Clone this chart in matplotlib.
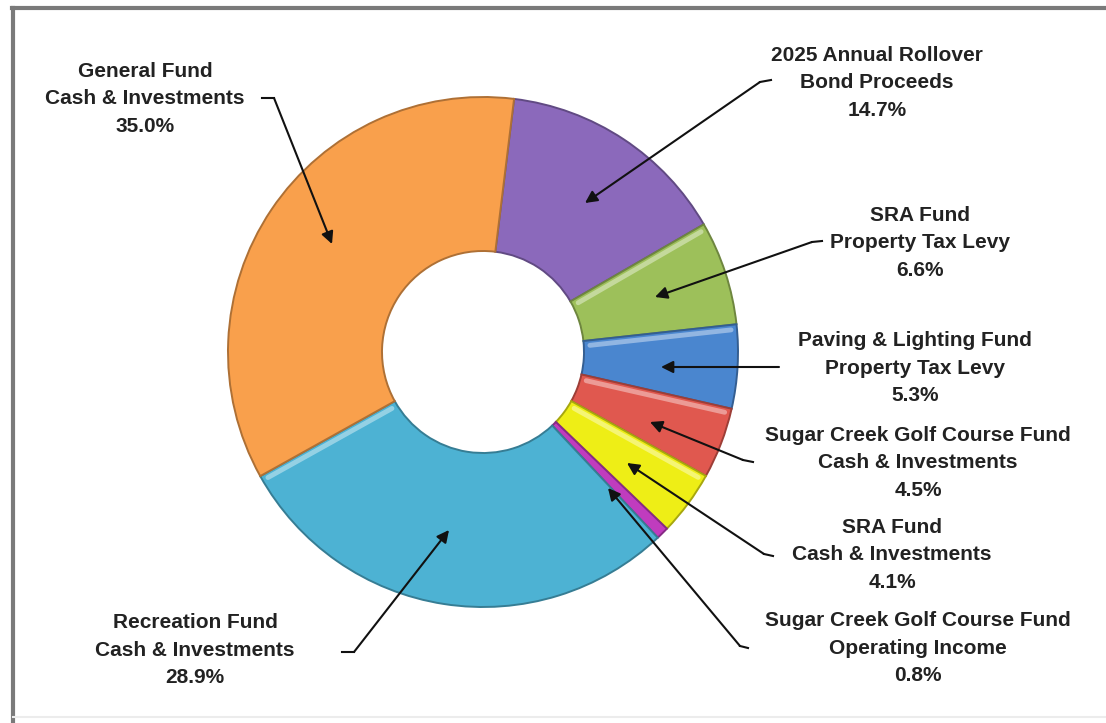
import matplotlib

matplotlib.use("Agg")
import matplotlib.pyplot as plt
import numpy as np
from matplotlib.colors import to_rgb

W, H = 1106, 723

labels = [
    "2025 Annual Rollover\nBond Proceeds",
    "SRA Fund\nProperty Tax Levy",
    "Paving & Lighting Fund\nProperty Tax Levy",
    "Sugar Creek Golf Course Fund\nCash & Investments",
    "SRA Fund\nCash & Investments",
    "Sugar Creek Golf Course Fund\nOperating Income",
    "Recreation Fund\nCash & Investments",
    "General Fund\nCash & Investments",
]
shares = [14.7, 6.6, 5.3, 4.5, 4.1, 0.8, 28.9, 35.0]
colors = ["#8b69bb", "#9dc05a", "#4a86cf", "#e0584f", "#eeee16",
          "#c03cbe", "#4db2d3", "#f9a04c"]

# label centre (x, y of the middle line) and leader path: text end, elbow, arrow tip
label_pos = [(877, 83), (920, 243), (915, 368), (918, 463),
             (892, 555), (918, 648), (195, 650), (145, 99)]
leaders = [
    ((771, 80), (760, 82), (585, 203)),
    ((822, 241), (812, 242), (655, 297)),
    ((779, 367), (779, 367), (661, 367)),
    ((753, 462), (743, 460), (650, 422)),
    ((773, 556), (764, 554), (627, 463)),
    ((748, 648), (740, 646), (608, 488)),
    ((342, 652), (354, 652), (449, 530)),
    ((262, 98), (274, 98), (332, 244)),
]

CX, CY = 483, 352
R_OUT, R_IN = 255, 101
FONT = ["Liberation Sans", "DejaVu Sans"]


def fy(y):
    return H - y


def shade(c, k):
    r, g, b = to_rgb(c)
    if k < 0:
        return (r * (1 + k), g * (1 + k), b * (1 + k))
    return (r + (1 - r) * k, g + (1 - g) * k, b + (1 - b) * k)


fig = plt.figure(figsize=(W / 100, H / 100), dpi=100)
ax = fig.add_axes([0, 0, 1, 1])

wedges, _ = ax.pie(
    shares,
    colors=colors,
    startangle=83,
    counterclock=False,
    radius=R_OUT,
    center=(CX, fy(CY)),
    wedgeprops=dict(width=R_OUT - R_IN, linewidth=1.4),
)

# darker rims and a light bevel on the edge facing the upper left
light = np.array([-0.3, 0.95])
light /= np.linalg.norm(light)
for w, c in zip(wedges, colors):
    w.set_edgecolor(shade(c, -0.3))
    for a, sgn in ((w.theta1, 1), (w.theta2, -1)):
        t = np.radians(a)
        n = np.array([np.sin(t), -np.cos(t)]) * sgn
        if n @ light > 0.5:
            off = -n * 5
            r = np.array([R_IN + 6, R_OUT - 6])
            xs = CX + r * np.cos(t) + off[0]
            ys = fy(CY) + r * np.sin(t) + off[1]
            ax.plot(xs, ys, color=shade(c, 0.45), lw=3.5,
                    solid_capstyle="round", alpha=0.9)

for (sx, sy), (s, e, tip), lab, v in zip(label_pos, leaders, labels, shares):
    ax.text(sx, fy(sy), f"{lab}\n{v:.1f}%", ha="center", va="center",
            multialignment="center", fontsize=15, fontweight="bold",
            family=FONT, color="#222222", linespacing=1.55)
    ax.plot([s[0], e[0]], [fy(s[1]), fy(e[1])], color="#111111", lw=1.5)
    ax.annotate("", xy=(tip[0], fy(tip[1])), xytext=(e[0], fy(e[1])),
                arrowprops=dict(arrowstyle="-|>", color="#111111", lw=1.5,
                                mutation_scale=18, shrinkA=0, shrinkB=0))

# frame lines
ax.plot([12, W], [fy(8), fy(8)], color="#7a7a7a", lw=3)
ax.plot([13, 13], [fy(8), 0], color="#7a7a7a", lw=3)
ax.plot([13, W], [fy(717), fy(717)], color="#ececec", lw=1.5)

ax.set_xlim(0, W)
ax.set_ylim(0, H)
ax.set_aspect("auto")
ax.axis("off")

fig.savefig("out.png", dpi=100, facecolor="white")
